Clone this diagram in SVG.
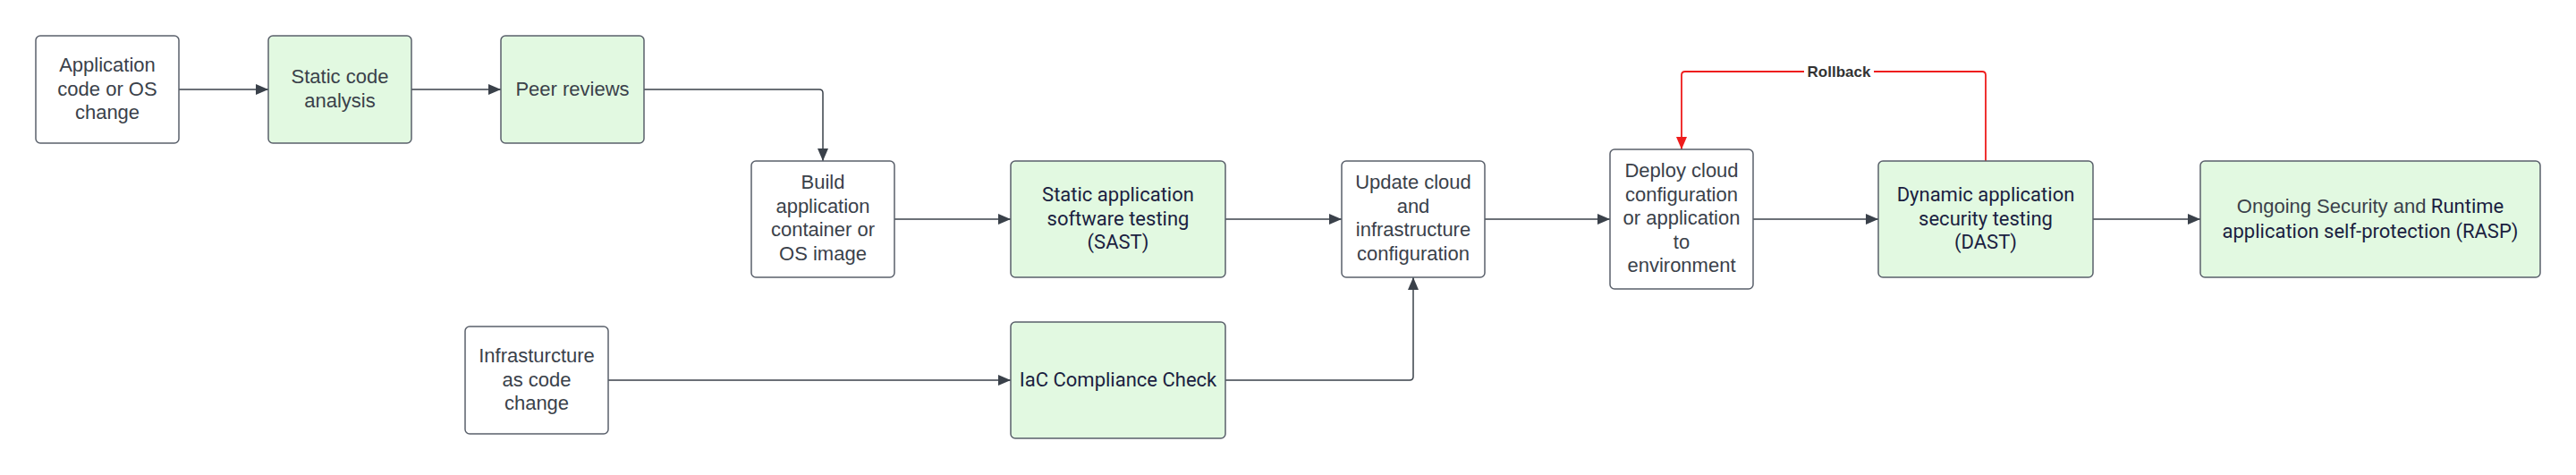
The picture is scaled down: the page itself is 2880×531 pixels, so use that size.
<svg xmlns="http://www.w3.org/2000/svg" width="2880" height="531" viewBox="0 0 2880 531">
<defs>
<marker id="ah" markerUnits="userSpaceOnUse" markerWidth="14" markerHeight="12" refX="14" refY="6" orient="auto"><path d="M0,0 L14,6 L0,12 z" fill="#3a414a"/></marker>
<marker id="ahr" markerUnits="userSpaceOnUse" markerWidth="14" markerHeight="12" refX="14" refY="6" orient="auto"><path d="M0,0 L14,6 L0,12 z" fill="#ee1c1c"/></marker>
<style>
.box{fill:#ffffff;stroke:#5a606b;stroke-width:1.5}
.g{fill:#e2f9e1;stroke:#5a606b;stroke-width:1.5}
.t{font-family:"Liberation Sans",Arial,sans-serif;font-size:22px;fill:#3a414a;text-anchor:middle}
.n{font-family:Roboto,"Liberation Sans",sans-serif;font-size:22px;fill:#1a2140;text-anchor:middle}
.c{fill:none;stroke:#3a414a;stroke-width:1.5;marker-end:url(#ah)}
.r{fill:none;stroke:#ee1c1c;stroke-width:1.8;marker-end:url(#ahr)}
.lbl{font-family:"Liberation Sans",Arial,sans-serif;font-size:17px;font-weight:bold;fill:#333333;text-anchor:middle}
</style>
</defs>
<rect width="2880" height="531" fill="#ffffff"/>
<g id="connectors">
<path class="c" d="M200,100 H300"/>
<path class="c" d="M460,100 H560"/>
<path class="c" d="M720,100 H916 Q920,100 920,104 V180"/>
<path class="c" d="M1000,245 H1130"/>
<path class="c" d="M1370,245 H1500"/>
<path class="c" d="M1660,245 H1800"/>
<path class="c" d="M1960,245 H2100"/>
<path class="c" d="M2340,245 H2460"/>
<path class="c" d="M680,425 H1130"/>
<path class="c" d="M1370,425 H1576 Q1580,425 1580,421 V310"/>
<path class="r" d="M2220,180 V84 Q2220,80 2216,80 H1884 Q1880,80 1880,84 V167"/>
<rect x="2017" y="70" width="78" height="20" fill="#ffffff"/>
<text class="lbl" x="2056" y="86">Rollback</text>
</g>
<g id="app-change">
<rect class="box" x="40" y="40" width="160" height="120" rx="5"/>
<text class="t" x="120" y="80">Application</text>
<text class="t" x="120" y="106.5">code or OS</text>
<text class="t" x="120" y="133">change</text>
</g>
<g id="static-code">
<rect class="g" x="300" y="40" width="160" height="120" rx="5"/>
<text class="t" x="380" y="93">Static code</text>
<text class="t" x="380" y="119.5">analysis</text>
</g>
<g id="peer-reviews">
<rect class="g" x="560" y="40" width="160" height="120" rx="5"/>
<text class="t" x="640" y="107">Peer reviews</text>
</g>
<g id="build">
<rect class="box" x="840" y="180" width="160" height="130" rx="5"/>
<text class="t" x="920" y="211">Build</text>
<text class="t" x="920" y="237.5">application</text>
<text class="t" x="920" y="264">container or</text>
<text class="t" x="920" y="290.5">OS image</text>
</g>
<g id="sast">
<rect class="g" x="1130" y="180" width="240" height="130" rx="5"/>
<text class="n" x="1250" y="225">Static application</text>
<text class="n" x="1250" y="251.5">software testing</text>
<text class="n" x="1250" y="278">(SAST)</text>
</g>
<g id="update-cloud">
<rect class="box" x="1500" y="180" width="160" height="130" rx="5"/>
<text class="t" x="1580" y="211">Update cloud</text>
<text class="t" x="1580" y="237.5">and</text>
<text class="t" x="1580" y="264">infrastructure</text>
<text class="t" x="1580" y="290.5">configuration</text>
</g>
<g id="deploy">
<rect class="box" x="1800" y="167" width="160" height="156" rx="5"/>
<text class="t" x="1880" y="198">Deploy cloud</text>
<text class="t" x="1880" y="224.5">configuration</text>
<text class="t" x="1880" y="251">or application</text>
<text class="t" x="1880" y="277.5">to</text>
<text class="t" x="1880" y="304">environment</text>
</g>
<g id="dast">
<rect class="g" x="2100" y="180" width="240" height="130" rx="5"/>
<text class="n" x="2220" y="225">Dynamic application</text>
<text class="n" x="2220" y="251.5">security testing</text>
<text class="n" x="2220" y="278">(DAST)</text>
</g>
<g id="rasp">
<rect class="g" x="2460" y="180" width="380" height="130" rx="5"/>
<text class="n" x="2650" y="238"><tspan style="fill:#3a414a;font-family:'Liberation Sans',Arial,sans-serif">Ongoing Security and</tspan> Runtime</text>
<text class="n" x="2650" y="266">application self-protection (RASP)</text>
</g>
<g id="iac-change">
<rect class="box" x="520" y="365" width="160" height="120" rx="5"/>
<text class="t" x="600" y="405">Infrasturcture</text>
<text class="t" x="600" y="431.5">as code</text>
<text class="t" x="600" y="458">change</text>
</g>
<g id="iac-check">
<rect class="g" x="1130" y="360" width="240" height="130" rx="5"/>
<text class="n" x="1250" y="432">IaC Compliance Check</text>
</g>
</svg>
